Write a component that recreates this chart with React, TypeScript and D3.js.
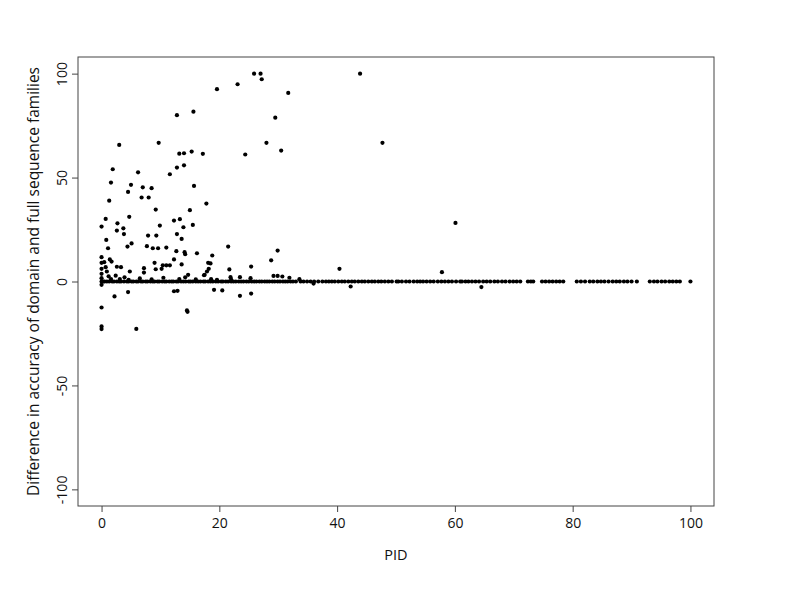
import { useRef, useEffect } from 'react';
import { select, scaleLinear, axisBottom, axisLeft } from 'd3';

// points off the zero line: [PID, difference]
const offZero: [number, number][] = [
  [25.9, 100], [27.0, 100], [27.2, 97.3], [23.1, 94.9], [19.6, 92.5], [31.7, 90.7], [29.5, 78.8],
  [15.6, 81.7], [12.8, 80.0], [43.9, 100], [3.0, 65.7], [9.7, 66.7], [28.0, 66.7], [47.7, 66.7],
  [30.5, 63.0], [24.4, 61.1], [13.2, 61.5], [14.0, 61.7], [15.3, 62.5], [17.2, 61.4],
  [1.9, 54.0], [1.6, 47.6], [6.2, 52.5], [11.6, 51.6], [12.8, 54.8], [14.0, 55.9],
  [5.0, 46.5], [4.5, 43.1], [7.0, 45.3], [8.5, 44.9], [6.8, 40.4], [8.0, 40.4], [15.7, 46.0],
  [1.3, 38.9], [17.8, 37.5], [9.2, 34.6], [15.0, 34.3],
  [0.7, 30.1], [4.7, 31.1], [2.7, 28.0], [0.0, 26.4], [3.7, 25.6], [2.6, 24.5], [3.8, 22.8],
  [12.3, 29.3], [13.3, 30.0], [9.9, 26.9], [15.5, 27.2], [13.9, 26.1], [12.8, 22.8],
  [7.9, 22.1], [9.3, 22.1], [13.6, 20.5], [0.8, 20.0],
  [1.1, 16.0], [4.4, 16.8], [5.1, 18.3], [7.7, 17.0], [8.7, 16.0], [9.6, 16.0], [11.0, 16.3],
  [12.7, 14.6], [14.1, 14.1], [14.2, 13.1], [16.2, 13.6],
  [0, 11.7], [0, 9.0], [0, 6.1], [0, 3.7], [0, 1.6], [0, -1.6],
  [0.45, 9.3], [0.7, 6.9], [0.9, 4.8], [1.4, 10.6], [1.7, 9.6], [2.6, 7.1], [3.3, 6.9],
  [4.8, 4.8], [7.2, 6.4], [7.2, 4.3], [9.0, 9.0], [9.2, 5.9], [10.2, 6.1], [10.4, 7.8],
  [11.0, 7.8], [11.6, 7.8], [12.3, 10.6], [13.6, 8.2], [14.7, 3.2], [17.4, 3.0], [17.9, 4.8],
  [18.2, 6.1], [18.5, 8.7],
  [2.2, -7.2], [4.5, -5.1], [12.3, -4.7], [12.9, -4.5], [0, -12.5], [14.5, -13.9], [14.6, -14.6],
  [0, -21.6], [0, -22.9], [5.9, -22.8],
  [21.5, 16.8], [29.9, 14.9], [28.8, 10.2], [18.8, 12.5], [18.1, 9.0], [21.7, 5.8], [25.4, 7.2],
  [29.2, 2.7], [29.9, 2.7], [30.7, 2.4], [31.9, 1.8], [19.1, -4.0], [20.5, -4.3], [23.5, -6.9],
  [25.4, -5.8], [17.5, 3.2], [21.9, 2.1], [23.5, 2.1], [25.3, 1.6], [33.6, 1.1], [36, -1],
  [60.1, 28.2], [40.4, 6.1], [57.8, 4.5], [42.3, -2.4], [64.5, -2.7],
  [1.2, 2.5], [1.6, 1.2], [2.4, 2.8], [3.1, 1.2], [3.9, 2.0], [4.6, 0.8], [6.5, 1.5], [8.5, 1.0],
  [10.5, 1.8], [13.2, 1.2], [14.2, 2.0], [16.0, 1.0], [18.6, 1.1], [19.6, 0.8], [22.0, 0.9],
];

// PIDs of families with no difference
const zeroPid: number[] = [
  0, 0.3, 0.5, 0.9, 1.3, 1.8, 2.1, 2.6, 3.0, 3.3, 3.8, 4.3, 4.6, 5.1, 5.4, 5.9, 6.2, 6.7, 7.0,
  7.5, 7.8, 8.3, 8.7, 9.0, 9.5, 9.8, 10.3, 10.7, 11.0, 11.5, 11.9, 12.2, 12.7, 13.0, 13.5,
  13.9, 14.3, 14.8, 15.1, 15.5, 16.0, 16.4, 16.8, 17.3, 17.6, 18.1, 18.5, 18.9, 19.4, 19.8,
  20.3, 20.6, 21.1, 21.5, 22.0, 22.4, 22.8, 23.3, 23.7, 24.1, 24.6, 25.0, 25.5, 25.9, 26.3,
  26.8, 27.2, 27.7, 28.1, 28.5, 29.0, 29.4, 29.9, 30.3, 30.8, 31.2, 31.6, 32.1, 32.5, 33.0,
  33.8, 34.3, 34.9, 35.5, 36.1, 36.8, 37.5, 38.1, 38.6, 39.1, 39.6, 40.2, 40.8, 41.3, 41.9,
  42.5, 43.0, 43.6, 44.2, 44.7, 45.3, 45.9, 46.4, 47.0, 47.5, 48.1, 48.7, 49.3, 50.1,
  50.4, 51.0, 51.7, 52.3, 53.0, 53.6, 54.1, 54.6, 55.2, 55.8, 56.4, 57.1, 57.7, 58.3, 58.9,
  59.5, 60.2, 60.9, 61.2, 61.8, 62.3, 62.9, 63.5, 64.1, 64.8, 65.4, 66.0, 66.7, 67.3, 68.0,
  68.6, 69.3, 69.9, 70.5, 71.1, 72.4, 72.9, 73.3, 74.8, 75.4, 76.0, 76.6, 77.2, 77.8, 78.4,
  80.7, 81.4, 82.1, 82.9, 83.5, 84.2, 84.8, 85.4, 86.1, 86.8, 87.4, 88.0, 88.7, 89.3, 90.0,
  90.9, 93.1, 93.8, 94.4, 95.1, 95.7, 96.4, 97.0, 97.6, 98.2, 100,
];

const xTicks = [0, 20, 40, 60, 80, 100];
const yTicks = [-100, -50, 0, 50, 100];

const font = '"Open Sans", sans-serif';

const App = () => {
  const xRef = useRef<SVGGElement>(null);
  const yRef = useRef<SVGGElement>(null);

  const x = scaleLinear().domain([-4, 104]).range([78, 714]);
  const y = scaleLinear().domain([-108, 108]).range([506, 57]);

  const points: [number, number][] = [...zeroPid.map((p) => [p, 0] as [number, number]), ...offZero];

  useEffect(() => {
    const xa = select(xRef.current);
    xa.call(axisBottom(x).tickValues(xTicks).tickSizeOuter(0).tickSize(6).tickPadding(6));
    xa.select('.domain').remove();
    xa.selectAll('line').attr('stroke', '#444');
    xa.selectAll('text').attr('font-family', font).attr('font-size', 14).attr('fill', '#111');

    const ya = select(yRef.current);
    ya.call(axisLeft(y).tickValues(yTicks).tickSizeOuter(0).tickSize(6).tickFormat((d) => String(d)));
    ya.select('.domain').remove();
    ya.selectAll('line').attr('stroke', '#444');
    ya.selectAll('text')
      .attr('font-family', font)
      .attr('font-size', 14)
      .attr('fill', '#111')
      .attr('x', null)
      .attr('dy', null)
      .attr('text-anchor', 'middle')
      .attr('transform', 'translate(-11,0) rotate(-90)');
  }, []);

  return (
    <svg width={785} height={606} style={{ position: 'absolute', left: 0, top: 0, background: '#fff' }}>
      <rect x={78} y={57} width={636} height={449} fill="none" stroke="#444" strokeWidth={1} />
      <g ref={xRef} transform="translate(0,506)" />
      <g ref={yRef} transform="translate(78,0)" />
      {points.map(([p, d], i) => (
        <circle key={i} cx={x(p)} cy={y(d)} r={2.1} fill="#000" />
      ))}
      <text x={(x(0) + x(100)) / 2} y={560} textAnchor="middle" fontFamily={font} fontSize={14.5} fill="#111">
        PID
      </text>
      <text
        transform={`translate(39,${y(0)}) rotate(-90)`}
        textAnchor="middle"
        fontFamily={font}
        fontSize={15.5}
        fill="#111"
      >
        Difference in accuracy of domain and full sequence families
      </text>
    </svg>
  );
};

export default App;
